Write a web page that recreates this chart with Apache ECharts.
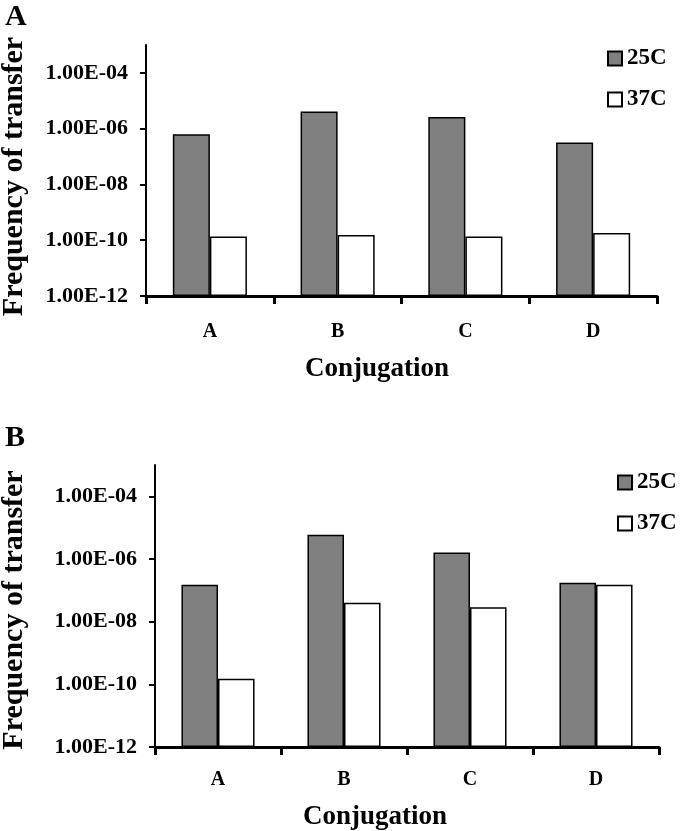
<!DOCTYPE html>
<html>
<head>
<meta charset="utf-8">
<script src="https://cdn.jsdelivr.net/npm/echarts@6/dist/echarts.min.js"></script>
<style>html,body{margin:0;padding:0;background:#fff;}#c{width:680px;height:831px;}</style>
</head>
<body>
<div id="c"></div>
<script>
const categories = ['A', 'B', 'C', 'D'];
const seriesNames = ['25C', '37C'];
const panelA25 = [6.3e-7, 4.1e-6, 2.6e-6, 3.2e-7];
const panelA37 = [1.35e-10, 1.55e-10, 1.35e-10, 1.8e-10];
const panelB25 = [1.5e-7, 5.9e-6, 1.6e-6, 1.75e-7];
const panelB37 = [1.5e-10, 4.0e-8, 2.9e-8, 1.5e-7];
const yTicks = [1e-12, 1e-10, 1e-8, 1e-6, 1e-4];
const yMin = 1e-12, yMax = 1e-3;
const panelLabels = ['A', 'B'];
const xTitle = 'Conjugation';
const yTitle = 'Frequency of transfer';

const FONT = 'Liberation Serif';
function fmt(v) {
  const e = Math.round(Math.log10(v));
  const a = Math.abs(e);
  return '1.00E' + (e < 0 ? '-' : '+') + (a < 10 ? '0' + a : a);
}
const grids = [
  {left: 146, top: 45, width: 511, height: 251, outerBoundsMode: 'none', containLabel: false},
  {left: 155, top: 465, width: 504, height: 282, outerBoundsMode: 'none', containLabel: false}
];
const labelMargins = [26, 23];
const nameGaps = [117, 126];
const namePads = [[0, 12, 0, 0], [0, 8, 0, 0]];
function xAxis(i) {
  return {
    type: 'category', gridIndex: i, data: categories,
    axisLine: {lineStyle: {color: '#000', width: 3}},
    axisTick: {show: true, length: 8, lineStyle: {color: '#000', width: 3}},
    axisLabel: {color: '#000', fontFamily: FONT, fontWeight: 'bold', fontSize: 20, margin: labelMargins[i]},
    splitLine: {show: false}
  };
}
function yAxis(i) {
  return {
    type: 'log', gridIndex: i, logBase: 10, min: yMin, max: yMax, startValue: yMin,
    name: yTitle, nameLocation: 'middle', nameRotate: 90, nameGap: nameGaps[i],
    nameTextStyle: {color: '#000', fontFamily: FONT, fontWeight: 'bold', fontSize: 30, padding: namePads[i]},
    axisLine: {show: true, lineStyle: {color: '#000', width: 2}},
    axisTick: {show: true, length: 6, lineStyle: {color: '#000', width: 2}, customValues: yTicks},
    axisLabel: {color: '#000', fontFamily: FONT, fontWeight: 'bold', fontSize: 22, margin: 18, formatter: fmt, customValues: yTicks},
    splitLine: {show: false}
  };
}
const styles = [
  {color: '#808080', borderColor: '#000', borderWidth: 1.5},
  {color: '#ffffff', borderColor: '#000', borderWidth: 1.5}
];
function bar(name, data, i, s) {
  return {
    type: 'bar', name: name, data: data, xAxisIndex: i, yAxisIndex: i,
    barGap: '0%', barCategoryGap: '42%', itemStyle: styles[s], emphasis: {disabled: true}
  };
}
const legendPos = [{left: 602, top: 42}, {left: 612, top: 466}];
const option = {
  animation: false,
  backgroundColor: '#fff',
  title: [
    {text: panelLabels[0], left: 0, top: -3, textStyle: {fontFamily: FONT, fontWeight: 'bold', fontSize: 30, color: '#000'}},
    {text: panelLabels[1], left: 0, top: 418, textStyle: {fontFamily: FONT, fontWeight: 'bold', fontSize: 30, color: '#000'}},
    {text: xTitle, left: 372, textAlign: 'center', top: 351, textStyle: {fontFamily: FONT, fontWeight: 'bold', fontSize: 27, color: '#000'}},
    {text: xTitle, left: 370, textAlign: 'center', top: 799, textStyle: {fontFamily: FONT, fontWeight: 'bold', fontSize: 27, color: '#000'}}
  ],
  legend: legendPos.map(p => ({
    data: seriesNames, orient: 'vertical', left: p.left, top: p.top, icon: 'rect',
    itemWidth: 14, itemHeight: 14, itemGap: 18, selectedMode: false,
    textStyle: {fontFamily: FONT, fontWeight: 'bold', fontSize: 23, color: '#000'}
  })),
  grid: grids,
  xAxis: [xAxis(0), xAxis(1)],
  yAxis: [yAxis(0), yAxis(1)],
  series: [
    bar(seriesNames[0], panelA25, 0, 0),
    bar(seriesNames[1], panelA37, 0, 1),
    bar(seriesNames[0], panelB25, 1, 0),
    bar(seriesNames[1], panelB37, 1, 1)
  ]
};
const chart = echarts.init(document.getElementById('c'), null, {renderer: 'canvas'});
chart.setOption(option);
</script>
</body>
</html>
